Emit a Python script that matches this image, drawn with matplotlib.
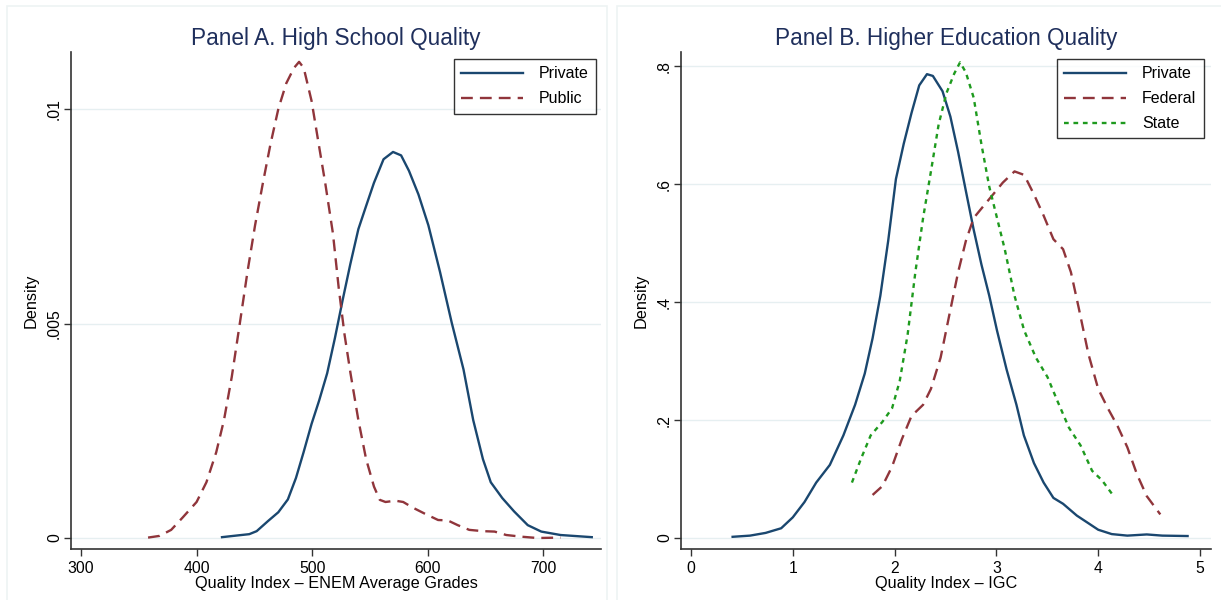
import numpy as np
import matplotlib.pyplot as plt
from matplotlib.patches import Rectangle

# ================== data ==================
# Panel A: high school quality (ENEM average grades)
hs_private_x = [422, 432, 445.6, 452, 462, 470.7, 479, 486, 492.6, 499.5, 506, 513, 519.7,
                526.5, 533, 540, 546.7, 553.5, 561.8, 570, 577, 583.8, 592, 600.6, 610.7,
                620.8, 631, 639.4, 647.8, 654.6, 664.6, 674.8, 686.6, 698.3, 715, 742]
hs_private_y = [0.00002, 0.00005, 0.00009, 0.00016, 0.0004, 0.0006, 0.0009, 0.0014, 0.002,
                0.00266, 0.0032, 0.00384, 0.00466, 0.00556, 0.00638, 0.0072, 0.00774,
                0.00828, 0.00883, 0.0090, 0.00892, 0.00856, 0.00801, 0.00729, 0.0062,
                0.00502, 0.00393, 0.00275, 0.00184, 0.0013, 0.00093, 0.00062, 0.0003,
                0.00015, 0.00007, 0.00002]

hs_public_x = [358, 368, 378, 388, 400, 408.5, 417, 423.7, 430.4, 437, 444, 450.6, 457.4,
               464, 470.8, 477.6, 484.3, 488.7, 492.7, 499.5, 506.2, 511.3, 518, 523, 528,
               533.2, 540, 546.7, 553.5, 558.5, 563.5, 572, 578.8, 587, 597.3, 609, 617.4,
               626, 636, 647.8, 657.9, 668, 681.5, 695, 715]
hs_public_y = [0.00001, 0.00005, 0.00019, 0.00048, 0.00084, 0.0013, 0.002, 0.00275, 0.00375,
               0.00493, 0.0062, 0.00729, 0.00828, 0.00919, 0.01001, 0.0106, 0.01096, 0.0111,
               0.01096, 0.01019, 0.0091, 0.00828, 0.0071, 0.00583, 0.00475, 0.00384,
               0.00275, 0.00184, 0.0012, 0.00089, 0.00084, 0.00087, 0.00084, 0.00071,
               0.00057, 0.00042, 0.00041, 0.0003, 0.00019, 0.00016, 0.00015, 0.00007,
               0.00003, 0.0, 0.00001]

# Panel B: higher education quality (IGC)
he_private_x = [0.409, 0.58, 0.733, 0.886, 1.0, 1.115, 1.23, 1.364, 1.497, 1.612, 1.707,
                1.784, 1.86, 1.937, 2.013, 2.09, 2.166, 2.242, 2.318, 2.376, 2.471, 2.548,
                2.624, 2.7, 2.777, 2.853, 2.93, 3.006, 3.1, 3.197, 3.27, 3.369, 3.464, 3.56,
                3.655, 3.79, 3.904, 4.0, 4.133, 4.286, 4.477, 4.63, 4.878]
he_private_y = [0.002, 0.004, 0.0086, 0.0165, 0.035, 0.061, 0.094, 0.124, 0.174, 0.226,
                0.279, 0.339, 0.411, 0.504, 0.609, 0.669, 0.721, 0.768, 0.787, 0.784,
                0.758, 0.715, 0.655, 0.589, 0.523, 0.464, 0.411, 0.352, 0.286, 0.226,
                0.174, 0.127, 0.094, 0.068, 0.058, 0.038, 0.025, 0.014, 0.0066, 0.004,
                0.006, 0.004, 0.0033]

he_federal_x = [1.784, 1.88, 1.975, 2.07, 2.166, 2.28, 2.357, 2.452, 2.53, 2.624, 2.7, 2.777,
                2.872, 2.968, 3.063, 3.178, 3.273, 3.369, 3.464, 3.56, 3.655, 3.732, 3.808,
                3.904, 4.0, 4.095, 4.19, 4.286, 4.381, 4.477, 4.61]
he_federal_y = [0.073, 0.088, 0.121, 0.167, 0.207, 0.226, 0.253, 0.306, 0.372, 0.451, 0.504,
                0.543, 0.563, 0.583, 0.603, 0.622, 0.616, 0.583, 0.547, 0.507, 0.49, 0.451,
                0.391, 0.312, 0.253, 0.22, 0.19, 0.154, 0.108, 0.071, 0.04]

he_state_x = [1.581, 1.669, 1.765, 1.88, 1.975, 2.05, 2.128, 2.204, 2.28, 2.357, 2.433, 2.51,
              2.586, 2.643, 2.7, 2.777, 2.853, 2.93, 3.006, 3.082, 3.178, 3.273, 3.388, 3.502,
              3.598, 3.713, 3.827, 3.94, 4.037, 4.152]
he_state_y = [0.094, 0.134, 0.174, 0.197, 0.22, 0.266, 0.345, 0.451, 0.543, 0.622, 0.702,
              0.755, 0.788, 0.807, 0.79, 0.747, 0.668, 0.596, 0.543, 0.49, 0.411, 0.352,
              0.306, 0.273, 0.233, 0.187, 0.157, 0.114, 0.098, 0.071]

hs_xticks = [300, 400, 500, 600, 700]
hs_yticks = [0, 0.005, 0.01]
hs_yticklabels = ["0", ".005", ".01"]
he_xticks = [0, 1, 2, 3, 4, 5]
he_yticks = [0, 0.2, 0.4, 0.6, 0.8]
he_yticklabels = ["0", ".2", ".4", ".6", ".8"]
# ==========================================

NAVY = "#1a476f"
MAROON = "#90353b"
GREEN = "#1e9a1e"
TITLE_C = "#1f2f5c"
GRID_C = "#e6eff1"
LW = 1.7

plt.rcParams["font.family"] = ["Liberation Sans", "DejaVu Sans"]

fig = plt.figure(figsize=(12.21, 6), dpi=100)

# faint panel frames (graph combine look)
for x0, x1 in ((7, 607), (617, 1230)):
    fig.patches.append(Rectangle((x0 / 1221, -0.01), (x1 - x0) / 1221, 1 - 6 / 600 + 0.01,
                                 transform=fig.transFigure, fill=False,
                                 edgecolor="#eef3f3", linewidth=1.2))


def style_axes(ax, title, xlabel, xticks, yticks, yticklabels):
    ax.set_title(title, color=TITLE_C, fontsize=16.3, pad=5)
    ax.set_xlabel(xlabel, fontsize=11.7, labelpad=0)
    ax.set_ylabel("Density", fontsize=11.7)
    ax.yaxis.set_label_coords(-0.062, 0.5)
    ax.set_xticks(xticks)
    ax.set_yticks(yticks)
    ax.set_yticklabels(yticklabels, rotation=90, va="center")
    ax.tick_params(labelsize=11.3, length=5, width=1, color="#333333")
    ax.tick_params(axis="y", pad=1.5)
    ax.grid(axis="y", color=GRID_C, linewidth=1)
    ax.set_axisbelow(True)
    for s in ("top", "right"):
        ax.spines[s].set_visible(False)
    for s in ("left", "bottom"):
        ax.spines[s].set_color("#333333")
        ax.spines[s].set_linewidth(1.2)


def add_legend(ax, anchor):
    leg = ax.legend(loc="upper right", bbox_to_anchor=anchor, fontsize=11.5,
                    frameon=True, fancybox=False, edgecolor="black", handlelength=3.9,
                    borderpad=0.45, labelspacing=0.62, handletextpad=1.0, borderaxespad=0.3)
    leg.get_frame().set_linewidth(1.0)
    return leg


ax1 = fig.add_axes([71 / 1221, 1 - 549 / 600, 530 / 1221, 497 / 600])
ax1.plot(hs_private_x, hs_private_y, color=NAVY, lw=LW, label="Private")
ax1.plot(hs_public_x, hs_public_y, color=MAROON, lw=LW, ls=(0, (5, 3)), label="Public")
ax1.set_xlim(291.3, 750)
ax1.set_ylim(-0.000256, 0.01133)
style_axes(ax1, "Panel A. High School Quality", "Quality Index \u2013 ENEM Average Grades",
           hs_xticks, hs_yticks, hs_yticklabels)
add_legend(ax1, (1.0, 0.995))

ax2 = fig.add_axes([681 / 1221, 1 - 549 / 600, 530 / 1221, 497 / 600])
ax2.plot(he_private_x, he_private_y, color=NAVY, lw=LW, label="Private")
ax2.plot(he_federal_x, he_federal_y, color=MAROON, lw=LW, ls=(0, (5, 3)), label="Federal")
ax2.plot(he_state_x, he_state_y, color=GREEN, lw=LW, ls=(0, (2, 2)), label="State")
ax2.set_xlim(-0.098, 5.108)
ax2.set_ylim(-0.0187, 0.8246)
style_axes(ax2, "Panel B. Higher Education Quality", "Quality Index \u2013 IGC",
           he_xticks, he_yticks, he_yticklabels)
add_legend(ax2, (0.995, 0.995))

fig.savefig("out.png", dpi=100, facecolor="white")
